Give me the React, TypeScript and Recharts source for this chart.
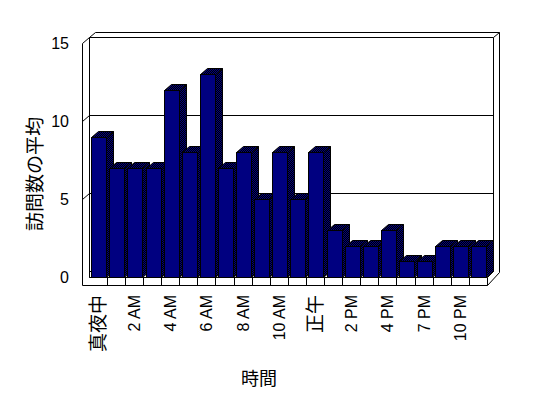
import React from 'react';
import { BarChart, Bar, XAxis, YAxis, CartesianGrid } from 'recharts';

const hours = [
  '真夜中', '1 AM', '2 AM', '3 AM', '4 AM', '5 AM', '6 AM', '7 AM', '8 AM', '9 AM', '10 AM', '11 AM',
  '正午', '1 PM', '2 PM', '3 PM', '4 PM', '5 PM', '7 PM', '8 PM', '10 PM', '11 PM',
];
const visits = [9, 7, 7, 7, 12, 8, 13, 7, 8, 5, 8, 5, 8, 3, 2, 2, 3, 1, 1, 2, 2, 2];
const valueTicks = [0, 5, 10, 15];

const data = hours.map((h, i) => ({ hour: h, visits: visits[i] }));

const W = 548;
const H = 398;
const LEFT = 89.2;
const RIGHT = 487.4;
const TOP = 43.5;
const BOTTOM = 277.5;
const DX = 7;
const DY = -6;

const LATIN = '"Liberation Sans", Arial, sans-serif';
const CJK = '"Noto Sans CJK JP", sans-serif';

const px = (v: number) => Math.floor(v) + 0.5;

function Bar3D(props: any) {
  const { x, y, width, height } = props;
  if (height == null || height <= 0) return null;
  const fx = px(x + 1);
  const w = Math.round(width);
  const ty = px(y);
  const by = px(y + height);
  const side = `M${fx + w},${ty} L${fx + w + DX},${ty + DY} L${fx + w + DX},${by + DY} L${fx + w},${by} Z`;
  const top = `M${fx},${ty} L${fx + DX},${ty + DY} L${fx + w + DX},${ty + DY} L${fx + w},${ty} Z`;
  return (
    <g>
      <path d={side} fill="url(#dither)" stroke="#000" />
      <path d={top} fill="url(#dither)" stroke="#000" />
      <rect x={fx} y={ty} width={w} height={by - ty} fill="#000080" stroke="#000" />
    </g>
  );
}

function HourTick(props: any) {
  const { x, y, payload, index, width, visibleTicksCount } = props;
  const band = width && visibleTicksCount ? width / visibleTicksCount : (RIGHT - LEFT) / hours.length;
  const div = px(x + band / 2);
  const label = String(payload.value);
  const i = payload.index ?? index;
  const isCjk = /[^\x00-\x7f]/.test(label);
  const ly = y + 17.5;
  return (
    <g>
      <line x1={div} x2={div} y1={y} y2={y + 8} stroke="#000" />
      {i % 2 === 0 && (
        <text
          x={x}
          y={ly}
          transform={`rotate(-90 ${x} ${ly})`}
          textAnchor="end"
          dy="0.35em"
          fontSize={isCjk ? 19 : 16}
          fontFamily={isCjk ? CJK : LATIN}
          fill="#000"
        >
          {label}
        </text>
      )}
    </g>
  );
}

function ValueTick({ y, payload }: any) {
  return (
    <text x={69} y={y} dy="0.35em" textAnchor="end" fontSize={16} fontFamily={LATIN} fill="#000">
      {payload.value}
    </text>
  );
}

// gridline runs across the left wall, then along the back wall
function gridLine(p: any) {
  const y = p.y1;
  const xl = px(p.x1);
  const xr = px(p.x2) + 6;
  const d = Math.abs(y - BOTTOM) < 1
    ? `M${xl},${y + DY} L${xr},${y + DY}`
    : `M${xl - 7},${y} L${xl},${y + DY} L${xr},${y + DY}`;
  return <path key={p.key} d={d} stroke="#000" fill="none" />;
}

function Frame() {
  const l = px(LEFT);
  const r = px(RIGHT);
  return (
    <svg width={W} height={H} style={{ position: 'absolute', left: 0, top: 0 }}>
      <defs>
        <pattern id="dither" width="2" height="2" patternUnits="userSpaceOnUse">
          <rect width="2" height="2" fill="#000" />
          <rect width="1" height="1" fill="#000080" />
          <rect x="1" y="1" width="1" height="1" fill="#000080" />
        </pattern>
      </defs>
      <g stroke="#000" fill="none">
        <path d={`M${l - 7},${TOP} L${l - 7},${BOTTOM + 8}`} />
        <path d={`M${l},${TOP + DY} L${l},${BOTTOM}`} />
        <path d={`M${l},${TOP + DY} L${l + 6},${TOP + DY - 5} L${r + 12},${TOP + DY - 5}`} />
        <path d={`M${r + 6},${TOP + DY} L${r + 12},${TOP + DY - 5} L${r + 12},${BOTTOM + DY + 1}`} />
        <path d={`M${r + 6},${TOP + DY} L${r + 6},${BOTTOM + DY}`} />
        <path d={`M${l - 7},${BOTTOM + 8} L${r},${BOTTOM + 8} L${r + 12},${BOTTOM + DY + 1}`} />
        <path d={`M${r},${BOTTOM} L${r + 6},${BOTTOM + DY}`} />
      </g>
      <text
        x={33}
        y={174}
        transform="rotate(-90 33 174)"
        textAnchor="middle"
        dominantBaseline="central"
        fontSize={19}
        fontFamily={CJK}
        fill="#000"
      >
        訪問数の平均
      </text>
      <text x={259} y={377} textAnchor="middle" dominantBaseline="central" fontSize={18} fontFamily={CJK} fill="#000">
        時間
      </text>
    </svg>
  );
}

export default function App() {
  return (
    <div style={{ position: 'absolute', left: 0, top: 0, width: W, height: H, background: '#fff' }}>
      <Frame />
      <div style={{ position: 'absolute', left: 0, top: 0 }}>
        <BarChart
          width={W}
          height={H}
          data={data}
          margin={{ top: TOP, right: W - RIGHT, bottom: 0, left: 0 }}
          barCategoryGap={1.5}
        >
          <CartesianGrid vertical={false} horizontal={gridLine} />
          <XAxis
            dataKey="hour"
            interval={0}
            height={H - BOTTOM}
            tickSize={0}
            tickMargin={0}
            tickLine={false}
            axisLine={{ stroke: '#000' }}
            tick={<HourTick />}
          />
          <YAxis
            type="number"
            domain={[0, 15]}
            ticks={valueTicks}
            width={LEFT}
            axisLine={false}
            tickLine={false}
            tick={<ValueTick />}
          />
          <Bar dataKey="visits" isAnimationActive={false} shape={<Bar3D />} />
        </BarChart>
      </div>
    </div>
  );
}
